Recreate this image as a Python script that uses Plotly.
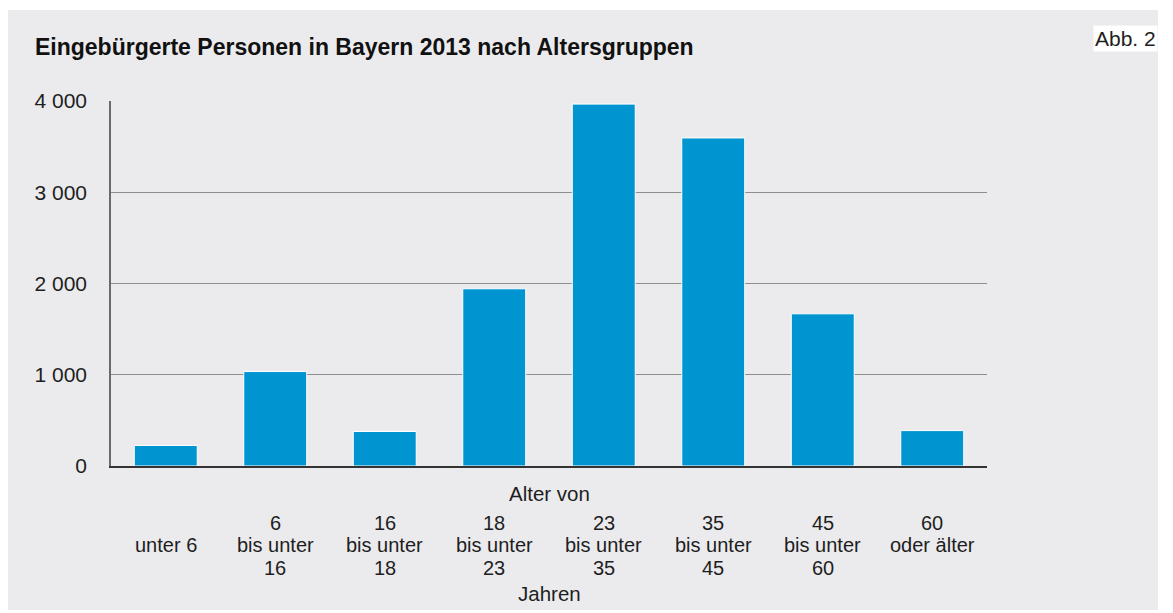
import plotly.graph_objects as go

# Altersgruppen (Kategorien) und eingebürgerte Personen
gruppen = ["unter 6", "6-16", "16-18", "18-23", "23-35", "35-45", "45-60", "60+"]
personen = [225, 1035, 378, 1942, 3966, 3595, 1668, 388]

# Beschriftung unter den Balken, drei Zeilen je Gruppe
zeile_von = ["", "6", "16", "18", "23", "35", "45", "60"]
zeile_mitte = ["unter 6", "bis unter", "bis unter", "bis unter", "bis unter", "bis unter", "bis unter", "oder älter"]
zeile_bis = ["", "16", "18", "23", "35", "45", "60", ""]

y_ticks = [0, 1000, 2000, 3000, 4000]
y_labels = ["0", "1 000", "2 000", "3 000", "4 000"]

FONT = "Liberation Sans, Arial, Helvetica, sans-serif"
GRAU = "#ebebed"
BLAU = "#0094d0"
TEXT = "#1e1e1e"

W, H = 1173, 613
L, R, T, B = 111, 186, 101, 147
pw, ph = W - L - R, H - T - B

def px_x(px):
    return (px - L) / pw

def px_y(py):
    return (H - B - py) / ph

fig = go.Figure()
fig.add_trace(go.Bar(x=gruppen, y=personen, marker=dict(color=BLAU, line=dict(color="white", width=1)),
                     width=0.575, hoverinfo="skip"))

# grauer Hintergrund
fig.add_shape(type="rect", xref="paper", yref="paper", x0=px_x(8), x1=px_x(1158), y0=px_y(610), y1=px_y(10),
              fillcolor=GRAU, line=dict(width=0), layer="below")

# Achsenbeschriftung unten
for i, g in enumerate(gruppen):
    for txt, py in ((zeile_von[i], 522.5), (zeile_mitte[i], 545), (zeile_bis[i], 567.5)):
        if txt:
            fig.add_annotation(x=g, xref="x", y=px_y(py), yref="paper", text=txt, showarrow=False,
                               yanchor="middle", font=dict(size=20, color=TEXT, family=FONT))

fig.add_annotation(x=0.5, xref="paper", y=px_y(494), yref="paper", text="Alter von", showarrow=False,
                   yanchor="middle", font=dict(size=20.5, color=TEXT, family=FONT))
fig.add_annotation(x=0.5, xref="paper", y=px_y(593), yref="paper", text="Jahren", showarrow=False,
                   yanchor="middle", font=dict(size=20.5, color=TEXT, family=FONT))

# Abb. 2
fig.add_annotation(x=px_x(1158), xref="paper", y=px_y(38.5), yref="paper", text="Abb. 2", showarrow=False,
                   xanchor="right", yanchor="middle", bgcolor="white", borderpad=1,
                   font=dict(size=21, color=TEXT, family=FONT))

fig.update_layout(
    width=W, height=H,
    margin=dict(l=L, r=R, t=T, b=B),
    paper_bgcolor="white",
    plot_bgcolor="rgba(0,0,0,0)",
    showlegend=False,
    bargap=0.425,
    title=dict(text="<b>Eingebürgerte Personen in Bayern 2013 nach Altersgruppen</b>",
               xref="container", yref="container", x=35 / W, y=1 - 47 / H,
               xanchor="left", yanchor="middle",
               font=dict(size=23, color="#111111", family=FONT)),
    font=dict(family=FONT, color=TEXT),
    xaxis=dict(showticklabels=False, showgrid=False, showline=True, linecolor="#333333", linewidth=2,
               ticks="", zeroline=False),
    yaxis=dict(range=[0, 4000], tickvals=y_ticks, ticktext=y_labels, showgrid=True,
               gridcolor="#8e8e8e", gridwidth=1, showline=True, linecolor="#6a6a6a", linewidth=1.5,
               zeroline=False, ticks="", ticklabelstandoff=18,
               tickfont=dict(size=21, color=TEXT, family=FONT)),
)

fig.write_html("out.html", config={"displayModeBar": False},
               post_script="document.body.style.margin='0';")
